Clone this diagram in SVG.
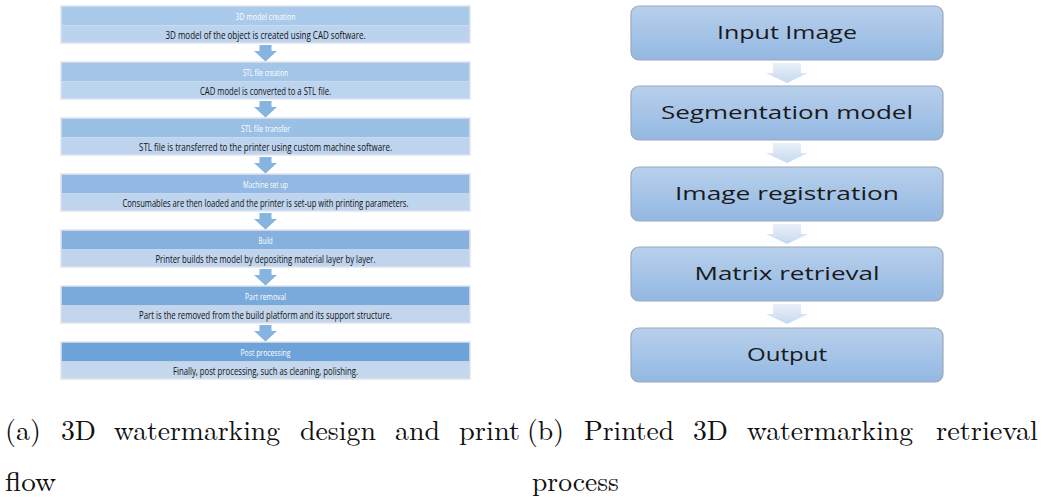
<svg xmlns="http://www.w3.org/2000/svg" width="1049" height="499" viewBox="0 0 1049 499">
  <style>
    .hdr-text { font-family: "Open Sans", "Liberation Sans", sans-serif; font-size: 9.5px; fill: #ffffff; text-anchor: middle; }
    .desc-text { font-family: "Open Sans", "Liberation Sans", sans-serif; font-size: 10.5px; fill: #111111; text-anchor: middle; }
    .step-frame { fill: none; stroke: #dfe4eb; stroke-width: 1.5; }
    .flow-arrow { fill: #86b4e0; }
    .box { fill: url(#boxFill); stroke: #9ea8b4; stroke-width: 1.2; }
    .box-text { font-family: "Open Sans", "Liberation Sans", sans-serif; font-size: 18px; fill: #1a1a1a; text-anchor: middle; }
    .soft-arrow { fill: url(#arrowFill); }
    .caption { font-family: "Latin Modern Roman", "CMU Serif", "Liberation Serif", serif; font-size: 28px; fill: #111111; }
  </style>
  <defs>
    <linearGradient id="boxFill" x1="0" y1="0" x2="0" y2="1">
      <stop offset="0" stop-color="#b8d0ec"/>
      <stop offset="1" stop-color="#93b8e2"/>
    </linearGradient>
    <linearGradient id="arrowFill" x1="0" y1="0" x2="0" y2="1">
      <stop offset="0" stop-color="#eaf1f9"/>
      <stop offset="1" stop-color="#c6d8ef"/>
    </linearGradient>
  </defs>

  <!-- Left: design and print flow -->
  <g id="step-1">
    <rect x="61" y="6" width="409" height="19.5" fill="#a9caea"/>
    <rect x="61" y="25.5" width="409" height="17.5" fill="#bcd3ee"/>
    <rect class="step-frame" x="61" y="6" width="409" height="37"/>
    <text class="hdr-text" x="265.5" y="19.5" textLength="60" lengthAdjust="spacingAndGlyphs">3D model creation</text>
    <text class="desc-text" x="265.5" y="38.5" textLength="200" lengthAdjust="spacingAndGlyphs">3D model of the object is created using CAD software.</text>
  </g>
  <g id="step-2">
    <rect x="61" y="62" width="409" height="19.5" fill="#a3c6e8"/>
    <rect x="61" y="81.5" width="409" height="17.5" fill="#bdd4ee"/>
    <rect class="step-frame" x="61" y="62" width="409" height="37"/>
    <text class="hdr-text" x="265.5" y="75.5" textLength="45" lengthAdjust="spacingAndGlyphs">STL file creation</text>
    <text class="desc-text" x="265.5" y="94.5" textLength="131" lengthAdjust="spacingAndGlyphs">CAD model is converted to a STL file.</text>
  </g>
  <g id="step-3">
    <rect x="61" y="118" width="409" height="19.5" fill="#9bc0e6"/>
    <rect x="61" y="137.5" width="409" height="17.5" fill="#bed4ee"/>
    <rect class="step-frame" x="61" y="118" width="409" height="37"/>
    <text class="hdr-text" x="265.5" y="131.5" textLength="49" lengthAdjust="spacingAndGlyphs">STL file transfer</text>
    <text class="desc-text" x="265.5" y="150.5" textLength="253" lengthAdjust="spacingAndGlyphs">STL file is transferred to the printer using custom machine software.</text>
  </g>
  <g id="step-4">
    <rect x="61" y="174" width="409" height="19.5" fill="#91b9e3"/>
    <rect x="61" y="193.5" width="409" height="17.5" fill="#bfd4ed"/>
    <rect class="step-frame" x="61" y="174" width="409" height="37"/>
    <text class="hdr-text" x="265.5" y="187.5" textLength="45" lengthAdjust="spacingAndGlyphs">Machine set up</text>
    <text class="desc-text" x="265.5" y="206.5" textLength="286" lengthAdjust="spacingAndGlyphs">Consumables are then loaded and the printer is set-up with printing parameters.</text>
  </g>
  <g id="step-5">
    <rect x="61" y="230" width="409" height="19.5" fill="#86b1df"/>
    <rect x="61" y="249.5" width="409" height="17.5" fill="#c0d5ed"/>
    <rect class="step-frame" x="61" y="230" width="409" height="37"/>
    <text class="hdr-text" x="265.5" y="243.5" textLength="14" lengthAdjust="spacingAndGlyphs">Build</text>
    <text class="desc-text" x="265.5" y="262.5" textLength="220" lengthAdjust="spacingAndGlyphs">Printer builds the model by depositing material layer by layer.</text>
  </g>
  <g id="step-6">
    <rect x="61" y="286" width="409" height="19.5" fill="#7aaadc"/>
    <rect x="61" y="305.5" width="409" height="17.5" fill="#c2d5ec"/>
    <rect class="step-frame" x="61" y="286" width="409" height="37"/>
    <text class="hdr-text" x="265.5" y="299.5" textLength="41" lengthAdjust="spacingAndGlyphs">Part removal</text>
    <text class="desc-text" x="265.5" y="318.5" textLength="253" lengthAdjust="spacingAndGlyphs">Part is the removed from the build platform and its support structure.</text>
  </g>
  <g id="step-7">
    <rect x="61" y="342" width="409" height="19.5" fill="#6ea3d9"/>
    <rect x="61" y="361.5" width="409" height="17.5" fill="#c4d7ec"/>
    <rect class="step-frame" x="61" y="342" width="409" height="37"/>
    <text class="hdr-text" x="265.5" y="355.5" textLength="50" lengthAdjust="spacingAndGlyphs">Post processing</text>
    <text class="desc-text" x="265.5" y="374.5" textLength="185" lengthAdjust="spacingAndGlyphs">Finally, post processing, such as cleaning, polishing.</text>
  </g>

  <!-- Right: retrieval process -->
  <g id="box-input">
    <rect class="box" x="631" y="6" width="312" height="54" rx="8"/>
    <text class="box-text" x="787" y="39" textLength="140" lengthAdjust="spacingAndGlyphs">Input Image</text>
  </g>
  <g id="box-segmentation">
    <rect class="box" x="631" y="86" width="312" height="54" rx="8"/>
    <text class="box-text" x="787" y="119" textLength="252" lengthAdjust="spacingAndGlyphs">Segmentation model</text>
  </g>
  <g id="box-registration">
    <rect class="box" x="631" y="167" width="312" height="54" rx="8"/>
    <text class="box-text" x="787" y="200" textLength="224" lengthAdjust="spacingAndGlyphs">Image registration</text>
  </g>
  <g id="box-matrix">
    <rect class="box" x="631" y="247" width="312" height="54" rx="8"/>
    <text class="box-text" x="787" y="280" textLength="185" lengthAdjust="spacingAndGlyphs">Matrix retrieval</text>
  </g>
  <g id="box-output">
    <rect class="box" x="631" y="328" width="312" height="54" rx="8"/>
    <text class="box-text" x="787" y="361" textLength="80" lengthAdjust="spacingAndGlyphs">Output</text>
  </g>

  <!-- Connectors -->
  <g id="connectors">
    <path class="flow-arrow" d="M259.5 45 H271.5 V51 H277 L265.5 61.5 L254 51 H259.5 Z"/>
    <path class="flow-arrow" d="M259.5 101 H271.5 V107 H277 L265.5 117.5 L254 107 H259.5 Z"/>
    <path class="flow-arrow" d="M259.5 157 H271.5 V163 H277 L265.5 173.5 L254 163 H259.5 Z"/>
    <path class="flow-arrow" d="M259.5 213 H271.5 V219 H277 L265.5 229.5 L254 219 H259.5 Z"/>
    <path class="flow-arrow" d="M259.5 269 H271.5 V275 H277 L265.5 285.5 L254 275 H259.5 Z"/>
    <path class="flow-arrow" d="M259.5 325 H271.5 V331 H277 L265.5 341.5 L254 331 H259.5 Z"/>

    <path class="soft-arrow" d="M773 63 H801 V73 H808 L787 83 L766 73 H773 Z"/>
    <path class="soft-arrow" d="M773 143 H801 V153 H808 L787 163 L766 153 H773 Z"/>
    <path class="soft-arrow" d="M773 224 H801 V234 H808 L787 244 L766 234 H773 Z"/>
    <path class="soft-arrow" d="M773 304 H801 V314 H808 L787 324 L766 314 H773 Z"/>
  </g>

  <!-- Sub-captions, justified one word at a time -->
  <g id="caption-a">
    <text class="caption" x="5" y="440" textLength="36" lengthAdjust="spacingAndGlyphs">(a)</text>
    <text class="caption" x="61" y="440" textLength="35" lengthAdjust="spacingAndGlyphs">3D</text>
    <text class="caption" x="114" y="440" textLength="166" lengthAdjust="spacingAndGlyphs">watermarking</text>
    <text class="caption" x="300" y="440" textLength="76" lengthAdjust="spacingAndGlyphs">design</text>
    <text class="caption" x="395" y="440" textLength="45" lengthAdjust="spacingAndGlyphs">and</text>
    <text class="caption" x="459" y="440" textLength="61" lengthAdjust="spacingAndGlyphs">print</text>
    <text class="caption" x="5" y="491" textLength="51" lengthAdjust="spacingAndGlyphs">flow</text>
  </g>
  <g id="caption-b">
    <text class="caption" x="527" y="440" textLength="37" lengthAdjust="spacingAndGlyphs">(b)</text>
    <text class="caption" x="584" y="440" textLength="90" lengthAdjust="spacingAndGlyphs">Printed</text>
    <text class="caption" x="693" y="440" textLength="35" lengthAdjust="spacingAndGlyphs">3D</text>
    <text class="caption" x="747" y="440" textLength="166" lengthAdjust="spacingAndGlyphs">watermarking</text>
    <text class="caption" x="936" y="440" textLength="102" lengthAdjust="spacingAndGlyphs">retrieval</text>
    <text class="caption" x="532" y="491" textLength="87" lengthAdjust="spacingAndGlyphs">process</text>
  </g>
</svg>
